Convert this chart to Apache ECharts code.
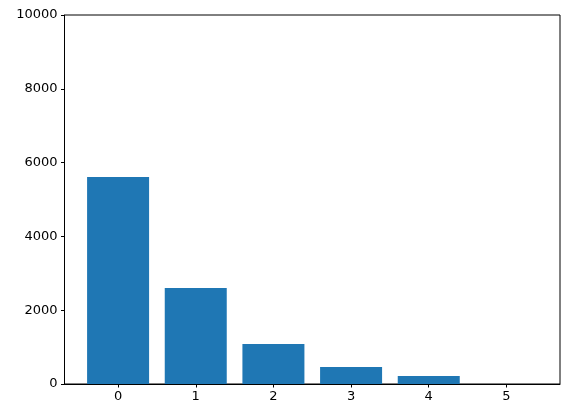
<!DOCTYPE html>
<html>
<head>
<meta charset="utf-8">
<script src="https://cdn.jsdelivr.net/npm/echarts@6/dist/echarts.min.js"></script>
<style>
  html, body { margin: 0; padding: 0; background: #fff; }
  #chart { width: 569px; height: 418px; }
</style>
</head>
<body>
<div id="chart"></div>
<script>
(function () {
    'use strict';

    // Values.
    var categories = [0, 1, 2, 3, 4, 5];
    var counts = [5610, 2600, 1085, 460, 215, 2];
    var yTicks = [0, 2000, 4000, 6000, 8000, 10000];

    var chart = echarts.init(document.getElementById('chart'), null, { renderer: 'canvas' });
    var font = 'DejaVu Sans';

    var option = {
        animation: false,
        grid: {
            left: 64.5, right: 9, top: 15, bottom: 34,
            show: true, borderColor: '#000', borderWidth: 1
        },
        xAxis: {
            type: 'value',
            min: -0.69, max: 5.69,
            splitLine: { show: false },
            axisLine: { show: true, onZero: false, lineStyle: { color: '#000', width: 1 } },
            axisTick: { show: true, customValues: categories, length: 3.5, lineStyle: { color: '#000' } },
            axisLabel: {
                customValues: categories, margin: 6,
                color: '#000', fontFamily: font, fontSize: 13,
                formatter: function (v) { return String(Math.round(v)); }
            }
        },
        yAxis: {
            type: 'value',
            min: yTicks[0], max: yTicks[yTicks.length - 1], interval: 2000,
            splitLine: { show: false },
            axisLine: { show: true, onZero: false, lineStyle: { color: '#000', width: 1 } },
            axisTick: { show: true, length: 3.5, lineStyle: { color: '#000' } },
            axisLabel: {
                margin: 7, color: '#000', fontFamily: font, fontSize: 13,
                formatter: function (v) { return String(v); }
            }
        },
        series: [{
            type: 'bar',
            barWidth: 62,
            itemStyle: { color: '#1f77b4' },
            data: categories.map(function (c, i) { return [c, counts[i]]; })
        }]
    };

    chart.setOption(option);
})();
</script>
</body>
</html>
